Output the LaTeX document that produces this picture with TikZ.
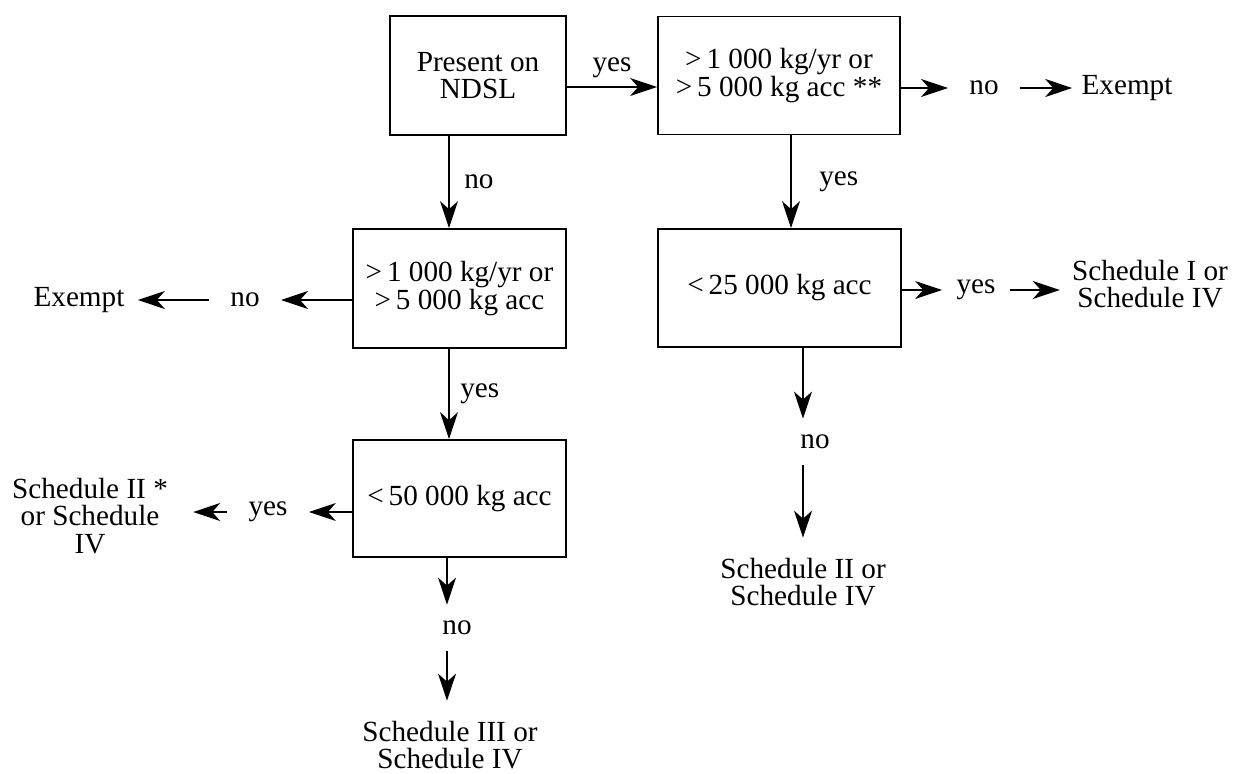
\documentclass[tikz,border=0pt]{standalone}
\usepackage{fontspec}
\setmainfont{Liberation Serif}
\usetikzlibrary{arrows.meta}
\begin{document}
\begin{tikzpicture}[x=0.5bp,y=-0.5bp,
    every node/.style={font=\fontsize{14.6bp}{13.6bp}\selectfont,align=center},
    qbox/.style={draw,line width=0.9bp,inner sep=0pt},
    lab/.style={inner xsep=10.5bp,inner ysep=8bp},
    outcome/.style={inner xsep=4.5bp,inner ysep=10bp},
    arr/.style={-{Stealth[length=13.5bp,width=9bp,inset=4bp]},line width=0.7bp}]
  \useasboundingbox (0,0) rectangle (1247,773);
  % question boxes
  \node[qbox,minimum width=88bp,minimum height=59.5bp] (ndsl) at (478,75.5) {Present on\\NDSL};
  \node[qbox,minimum width=121bp,minimum height=59bp] (qtyb) at (779,75.5) {>\,1 000 kg/yr or\\>\,5 000 kg acc **};
  \node[qbox,minimum width=106.5bp,minimum height=59.5bp] (qtya) at (459.5,288.5) {>\,1 000 kg/yr or\\>\,5 000 kg acc};
  \node[qbox,minimum width=106.5bp,minimum height=58.5bp] (acca) at (459.5,498.5) {<\,50 000 kg acc};
  \node[qbox,minimum width=121.5bp,minimum height=59bp] (accb) at (779.5,288) {<\,25 000 kg acc};
  % columns and rows of the connectors
  \coordinate (c1) at (449,0);
  \coordinate (c2) at (447,0);
  \coordinate (c3) at (791,0);
  \coordinate (c4) at (803,0);
  \coordinate (r1) at (0,87);
  % inline labels and outcomes
  \node[lab] (bno) at (984,88) {no};
  \node[outcome] (bex) at (1127,88) {Exempt};
  \node[lab] (cno) at (245,300) {no};
  \node[outcome,inner xsep=6.5bp] (cex) at (79,300) {Exempt};
  \node[lab] (dyes) at (268,512) {yes};
  \node[outcome,inner xsep=12.5bp] (dsch) at (90,516) {Schedule II *\\or Schedule\\IV};
  \node[lab] (dno) at (457,628) {no};
  \node[outcome] (s3) at (450,745) {Schedule III or\\Schedule IV};
  \node[lab,inner xsep=7bp] (eyes) at (976,290) {yes};
  \node[outcome,inner xsep=6bp] (esch) at (1150,284) {Schedule I or\\Schedule IV};
  \node[lab] (eno) at (815,442) {no};
  \node[outcome] (s2) at (803,582) {Schedule II or\\Schedule IV};
  % connectors
  \draw[arr] (ndsl.east |- r1) -- (qtyb.west |- r1) node[midway,above=1bp] {yes};
  \draw[arr] (qtyb.east |- bno) -- (bno);
  \draw[arr] (bno) -- (bex);
  \draw[arr] (ndsl.south -| c1) -- (qtya.north -| c1) node[midway,right=4bp] {no};
  \draw[arr] (qtya.west |- cno) -- (cno);
  \draw[arr] (cno) -- (cex);
  \draw[arr] (qtya.south -| c1) -- (acca.north -| c1) node[midway,right=2bp] {yes};
  \draw[arr] (acca.west |- dyes) -- (dyes);
  \draw[arr] (dyes) -- (dyes -| dsch.east);
  \draw[arr] (acca.south -| c2) -- (dno.north -| c2);
  \draw[arr] (dno.south -| c2) -- (s3.north -| c2);
  \draw[arr] (qtyb.south -| c3) -- (accb.north -| c3) node[midway,right=10.5bp] {yes};
  \draw[arr] (accb.east |- eyes) -- (eyes);
  \draw[arr] (eyes) -- (eyes -| esch.west);
  \draw[arr] (accb.south -| c4) -- (eno.north -| c4);
  \draw[arr] (eno.south -| c4) -- (s2.north -| c4);
\end{tikzpicture}
\end{document}
